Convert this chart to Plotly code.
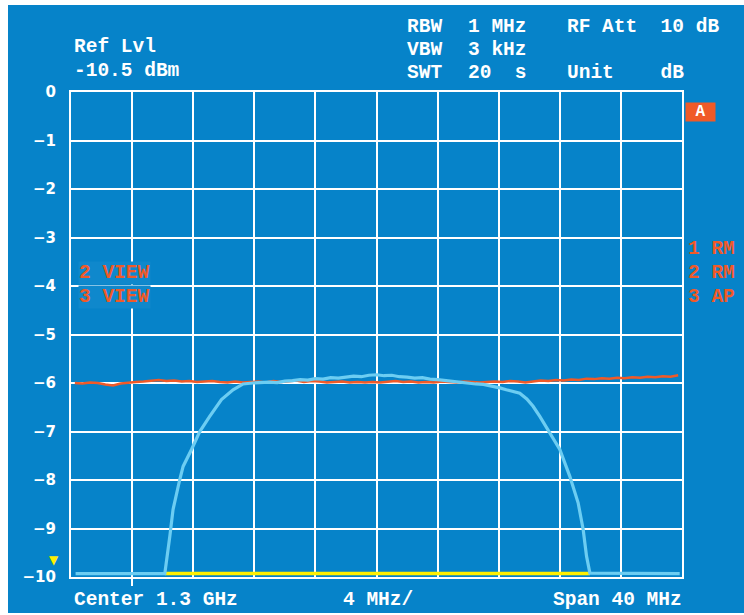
import plotly.graph_objects as go

# ---------------- data (frequency offset from 1.3 GHz centre, MHz; level dB) -------------
red_freq = [-19.75, -19.25, -18.75, -18.25, -17.75, -17.25, -16.75, -16.25, -15.75, -15.25,
            -14.75, -14.25, -13.75, -13.25, -12.75, -12.25, -11.75, -11.25, -10.75, -10.25,
            -9.75, -9.25, -8.75, -8.25, -7.75, -7.25, -6.75, -6.25, -5.75, -5.25,
            -4.75, -4.25, -3.75, -3.25, -2.75, -2.25, -1.75, -1.25, -0.75, -0.25,
            0.25, 0.75, 1.25, 1.75, 2.25, 2.75, 3.25, 3.75, 4.25, 4.75,
            5.25, 5.75, 6.25, 6.75, 7.25, 7.75, 8.25, 8.75, 9.25, 9.75,
            10.25, 10.75, 11.25, 11.75, 12.25, 12.75, 13.25, 13.75, 14.25, 14.75,
            15.25, 15.75, 16.25, 16.75, 17.25, 17.75, 18.25, 18.75, 19.25, 19.75]
red_db = [-6.00, -6.01, -5.99, -6.00, -6.03, -6.05, -6.01, -5.99, -5.98, -5.97,
          -5.96, -5.94, -5.96, -5.95, -5.97, -5.96, -5.98, -5.97, -5.96, -5.98,
          -5.99, -5.97, -5.99, -5.98, -5.97, -5.99, -5.96, -5.98, -5.97, -5.95,
          -5.98, -5.96, -5.97, -5.99, -5.98, -5.97, -5.99, -5.98, -5.99, -5.98,
          -5.99, -5.97, -5.96, -5.98, -5.97, -5.99, -5.98, -5.99, -5.97, -5.98,
          -5.99, -5.97, -5.98, -5.99, -5.98, -5.97, -5.98, -5.96, -5.97, -5.99,
          -5.97, -5.95, -5.96, -5.94, -5.95, -5.93, -5.94, -5.91, -5.92, -5.90,
          -5.91, -5.89, -5.90, -5.88, -5.89, -5.87, -5.88, -5.86, -5.87, -5.84]

blue_freq = [-19.7, -13.86, -13.53, -13.32, -12.88, -12.66, -12.11, -11.57, -10.92, -10.15,
             -9.39, -8.73, -8.10, -7.5, -7.0, -6.5, -6.0, -5.5, -5.0, -4.5,
             -4.0, -3.5, -3.0, -2.5, -2.0, -1.5, -1.0, -0.5, 0.0, 0.5,
             1.0, 1.5, 2.0, 2.5, 3.0, 3.5, 4.0, 4.5, 5.0, 5.5,
             6.0, 6.5, 7.0, 7.5, 8.07, 8.5, 8.92, 9.38, 9.84, 10.25,
             10.69, 11.23, 11.54, 12.0, 12.65, 13.2, 13.53, 13.75, 13.97, 19.85]
blue_db = [-9.93, -9.93, -9.16, -8.61, -7.99, -7.72, -7.37, -7.0, -6.69, -6.34,
           -6.14, -6.02, -6.0, -5.99, -5.98, -5.99, -5.96, -5.95, -5.93, -5.94,
           -5.91, -5.92, -5.89, -5.90, -5.88, -5.86, -5.87, -5.84, -5.83, -5.85,
           -5.84, -5.87, -5.88, -5.90, -5.89, -5.92, -5.93, -5.95, -5.97, -5.99,
           -6.0, -6.02, -6.03, -6.06, -6.10, -6.14, -6.18, -6.21, -6.33, -6.48,
           -6.69, -6.96, -7.13, -7.37, -7.92, -8.47, -9.02, -9.57, -9.92, -9.93]

yellow_freq = [-13.86, 13.97]
yellow_db = [-9.93, -9.93]

x_range = [-20, 20]
y_range = [-10, 0]

# ---------------- style ----------------
BG = "#0683c9"
ORANGE = "#f05a28"
LIGHTBLUE = "#6ccdf2"
YELLOW = "#fff000"
MONO = "Liberation Mono"

W, H = 744, 615
L, R, T, B = 71, 62, 92, 38
PW, PH = W - L - R, H - T - B


def px(x, y):
    return (x - L) / PW, (H - B - y) / PH


fig = go.Figure()
fig.add_trace(go.Scatter(x=yellow_freq, y=yellow_db, mode="lines",
                         line=dict(color=YELLOW, width=3.5), hoverinfo="skip"))
fig.add_trace(go.Scatter(x=red_freq, y=red_db, mode="lines",
                         line=dict(color=ORANGE, width=2.5), hoverinfo="skip"))
fig.add_trace(go.Scatter(x=blue_freq, y=blue_db, mode="lines",
                         line=dict(color=LIGHTBLUE, width=3.2), hoverinfo="skip"))

annotations = []


def txt(s, x, y, color="white", size=19.5, xanchor="left", bg=None, font=MONO):
    xp, yp = px(x, y)
    a = dict(text=s, x=xp, y=yp, xref="paper", yref="paper", showarrow=False,
             xanchor=xanchor, yanchor="middle",
             font=dict(family=font, size=size, color=color, weight="bold"))
    if bg:
        a["bgcolor"] = bg
        a["borderpad"] = 0
    annotations.append(a)


txt("Ref Lvl", 72, 47)
txt("-10.5 dBm", 72, 71)
txt("RBW", 405, 27)
txt("1 MHz", 466, 27)
txt("RF Att  10 dB", 565, 27)
txt("VBW", 405, 50)
txt("3 kHz", 466, 50)
txt("SWT", 405, 73)
txt("20  s", 466, 73)
txt("Unit    dB", 565, 73)
txt("Center 1.3 GHz", 72, 600)
txt("4 MHz/", 378, 600, xanchor="center")
txt("Span 40 MHz", 684, 600, xanchor="right")
txt("2 VIEW", 78, 273, color=ORANGE, bg="#0f88cc")
txt("3 VIEW", 78, 297, color=ORANGE, bg="#0f88cc")
txt("1 RM", 686, 249, color=ORANGE)
txt("2 RM", 686, 273, color=ORANGE)
txt("3 AP", 686, 297, color=ORANGE)

# "A" badge
xa, ya = px(700, 112)
annotations.append(dict(text="A", x=xa, y=ya, xref="paper", yref="paper", showarrow=False,
                        xanchor="center", yanchor="middle", bgcolor=ORANGE, width=27, height=16,
                        font=dict(family=MONO, size=16, color="white", weight="bold")))
# yellow reference marker
xt, yt = px(54, 560)
annotations.append(dict(text="▼", x=xt, y=yt, xref="paper", yref="paper", showarrow=False,
                        xanchor="center", yanchor="middle",
                        font=dict(family="DejaVu Sans", size=12, color=YELLOW)))

shapes = []
# white frame outside the instrument screen
for x0, y0, x1, y1 in [(0, 0, 8, H), (0, 0, W, 5), (0, 613, W, H)]:
    a0, b0 = px(x0, y0)
    a1, b1 = px(x1, y1)
    shapes.append(dict(type="rect", xref="paper", yref="paper", x0=a0, x1=a1, y0=b1, y1=b0,
                       fillcolor="white", line=dict(width=0), layer="above"))

fig.update_layout(
    width=W, height=H,
    margin=dict(l=L, r=R, t=T, b=B),
    paper_bgcolor=BG, plot_bgcolor=BG,
    showlegend=False,
    annotations=annotations,
    shapes=shapes,
    xaxis=dict(range=x_range, tickmode="array", tickvals=[-16], ticks="outside",
               ticklen=7, tickwidth=1.5, tickcolor="white", showticklabels=False,
               showgrid=True, gridcolor="white", gridwidth=1.5,
               minor=dict(tick0=-20, dtick=4, showgrid=True, gridcolor="white",
                          gridwidth=1.5, ticks=""),
               showline=True, linecolor="white", linewidth=2, mirror=True,
               zeroline=False, fixedrange=True),
    yaxis=dict(range=y_range, tick0=0, dtick=1, ticks="", ticklabelstandoff=10,
               tickfont=dict(family="DejaVu Sans", size=15, color="white", weight="bold"),
               showgrid=True, gridcolor="white", gridwidth=1.5,
               showline=True, linecolor="white", linewidth=2, mirror=True,
               zeroline=False, fixedrange=True),
)

fig.write_html("out.html", config={"displayModeBar": False},
               post_script="document.body.style.margin='0';document.body.style.overflow='hidden';")
